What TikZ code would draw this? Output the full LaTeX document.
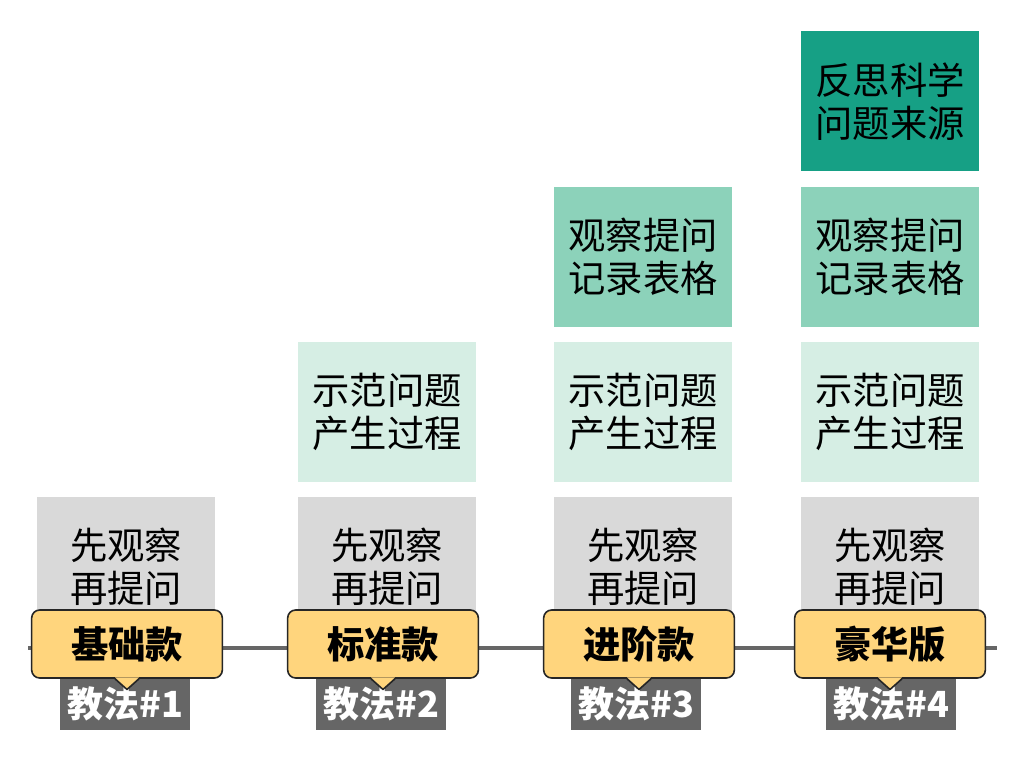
\documentclass[tikz,border=0pt]{standalone}
\usepackage{fontspec}
\usepackage{xcolor}
\usepackage{tikz}
\usetikzlibrary{positioning,calc}
\newfontfamily\cjk{Noto Sans CJK SC}
\definecolor{boxgray}{RGB}{217,217,217}
\definecolor{tealpale}{RGB}{214,238,228}
\definecolor{tealmid}{RGB}{140,210,186}
\definecolor{tealdark}{RGB}{22,160,133}
\definecolor{tagyellow}{RGB}{255,213,125}
\definecolor{taggray}{RGB}{102,102,102}
\tikzset{
  card/.style={minimum width=133.5pt, minimum height=105pt, inner sep=0pt, align=center, font=\cjk\fontsize{28}{32}\selectfont},
  basic/.style={card, fill=boxgray},
  demo/.style={card, fill=tealpale},
  record/.style={card, fill=tealmid},
  reflect/.style={card, fill=tealdark},
  level/.style={rounded corners=6pt, draw=black!85, line width=1.2pt, fill=tagyellow, minimum width=143pt, minimum height=51pt, inner sep=0pt, font=\cjk\bfseries\fontsize{28}{32}\selectfont},
  tag/.style={fill=taggray, text=white, minimum width=97.5pt, minimum height=39pt, inner sep=0pt, font=\cjk\bfseries\fontsize{27}{30}\selectfont},
  axis/.style={line width=3pt, draw=taggray},
  pointer/.pic={
    \fill[tagyellow] (-9pt,1pt) -- (0,-8pt) -- (9pt,1pt) -- cycle;
    \draw[line width=1.2pt, draw=black!85, line join=round] (-9pt,0) -- (0,-8pt) -- (9pt,0);
  },
}
\begin{document}
\begin{tikzpicture}[x=0.75pt,y=-0.75pt]
    \fill[white] (0,0) rectangle (1024,768);
    \coordinate (axl) at (28,648);
    \coordinate (axr) at (997,648);
    \draw[axis] (axl) -- (axr);

    % column 1
    \node[basic] (b1) at (126,567) {先观察\\再提问};
    % column 2
    \node[basic] (b2) at (387,567) {先观察\\再提问};
    \node[demo, above=11pt of b2] (d2) {示范问题\\产生过程};
    % column 3
    \node[basic] (b3) at (643,567) {先观察\\再提问};
    \node[demo, above=11pt of b3] (d3) {示范问题\\产生过程};
    \node[record, above=11pt of d3] (r3) {观察提问\\记录表格};
    % column 4
    \node[basic] (b4) at (890,567) {先观察\\再提问};
    \node[demo, above=11pt of b4] (d4) {示范问题\\产生过程};
    \node[record, above=11pt of d4] (r4) {观察提问\\记录表格};
    \node[reflect, above=11pt of r4] (f4) {反思科学\\问题来源};

    % tags under the axis
    \node[tag] (t1) at (125,704) {教法\#1};
    \node[tag] (t2) at (381,704) {教法\#2};
    \node[tag] (t3) at (636,704) {教法\#3};
    \node[tag] (t4) at (891,704) {教法\#4};

    % level labels on the axis
    \node[level] (l1) at (127,644) {基础款};
    \node[level] (l2) at (383,644) {标准款};
    \node[level] (l3) at (639,644) {进阶款};
    \node[level] (l4) at (890,644) {豪华版};
    \pic at (l1.south) {pointer};
    \pic at (l2.south) {pointer};
    \pic at (l3.south) {pointer};
    \pic at (l4.south) {pointer};
  \end{tikzpicture}
\end{document}
